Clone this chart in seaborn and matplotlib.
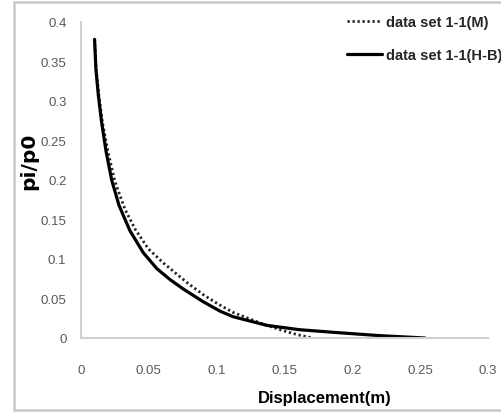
import matplotlib
matplotlib.use("Agg")
import matplotlib.pyplot as plt
from matplotlib.patches import Rectangle
import seaborn as sns
import pandas as pd

# Data
hb_x = [0.0100, 0.0110, 0.0128, 0.0152, 0.0185, 0.0226, 0.0280, 0.0360, 0.0459,
        0.0558, 0.0656, 0.0754, 0.0900, 0.1025, 0.1120, 0.1370, 0.1610, 0.1860,
        0.2200, 0.2535]
hb_y = [0.378, 0.340, 0.307, 0.273, 0.236, 0.200, 0.168, 0.136, 0.108,
        0.088, 0.074, 0.062, 0.046, 0.034, 0.027, 0.016, 0.0105, 0.0072,
        0.0030, 0.0]

m_x = [0.0100, 0.0112, 0.0132, 0.0158, 0.0200, 0.0250, 0.0324, 0.0398, 0.0496,
       0.0607, 0.0705, 0.0790, 0.0900, 0.1010, 0.1120, 0.1340, 0.1490, 0.1600,
       0.1710]
m_y = [0.378, 0.340, 0.307, 0.273, 0.235, 0.198, 0.163, 0.138, 0.113,
       0.095, 0.081, 0.069, 0.055, 0.043, 0.0325, 0.0177, 0.0093, 0.0040,
       0.0]

label_m = "data set 1-1(M)"
label_hb = "data set 1-1(H-B)"
x_ticks = [0, 0.05, 0.1, 0.15, 0.2, 0.25, 0.3]
x_ticklabels = ["0", "0.05", "0.1", "0.15", "0.2", "0.25", "0.3"]
y_ticks = [0, 0.05, 0.1, 0.15, 0.2, 0.25, 0.3, 0.35, 0.4]
y_ticklabels = ["0", "0.05", "0.1", "0.15", "0.2", "0.25", "0.3", "0.35", "0.4"]

sns.set_style("white")
plt.rcParams['font.family'] = ['Liberation Sans', 'DejaVu Sans']

W, H = 502, 414
fig = plt.figure(figsize=(W / 100, H / 100), dpi=100)
ax = fig.add_axes([81 / W, 1 - 339 / H, (488 - 81) / W, (339 - 23) / H])

df_m = pd.DataFrame({"x": m_x, "y": m_y})
df_hb = pd.DataFrame({"x": hb_x, "y": hb_y})

sns.lineplot(data=df_m, x="x", y="y", ax=ax, sort=False, color="#222222",
             linewidth=2.0, linestyle=(0, (0.8, 1.0)), label=label_m)
sns.lineplot(data=df_hb, x="x", y="y", ax=ax, sort=False, color="black",
             linewidth=2.3, label=label_hb)

ax.set_xlim(0, 0.3)
ax.set_ylim(0, 0.4)
ax.set_xticks(x_ticks)
ax.set_xticklabels(x_ticklabels)
ax.set_yticks(y_ticks)
ax.set_yticklabels(y_ticklabels)

for s in ["top", "right"]:
    ax.spines[s].set_visible(False)
for s in ["left", "bottom"]:
    ax.spines[s].set_color("#d0d0d0")
    ax.spines[s].set_linewidth(1.5)

ax.tick_params(axis="both", which="major", direction="out", length=3.5,
               width=1.2, color="#c8c8c8", labelsize=9.5, labelcolor="#595959")
ax.tick_params(axis="x", pad=15)
ax.tick_params(axis="y", pad=7)

ax.set_xlabel("Displacement(m)", fontsize=12, fontweight="bold", color="black")
ax.xaxis.set_label_coords(0.6, -0.165)
ax.set_ylabel("pi/p0", fontsize=14.5, fontweight="bold", color="black",
              family=["DejaVu Sans"])
ax.yaxis.set_label_coords(-0.106, 0.563)

leg = ax.legend(loc="upper left", bbox_to_anchor=(347 / W, 1 - 16 / H),
                bbox_transform=fig.transFigure, frameon=False, borderpad=0,
                borderaxespad=0, handlelength=2.4, handletextpad=0.27,
                labelspacing=1.3, prop={"size": 10.5, "weight": "bold"})

# light grey outer frame
fig.patches.append(Rectangle((14 / W, 3 / H), (W - 14) / W, (411 - 3) / H,
                             transform=fig.transFigure, fill=False,
                             edgecolor="#c8c8c8", linewidth=1.8))

fig.savefig("out.png", dpi=100)
